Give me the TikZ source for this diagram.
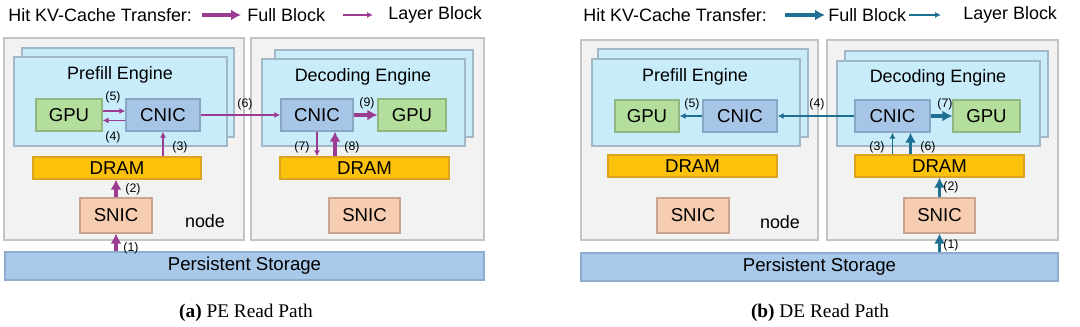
\documentclass[tikz,border=0pt]{standalone}
\usepackage{fontspec}
\setmainfont{Liberation Serif}
\newfontfamily\diagfont{Liberation Sans}
\usetikzlibrary{arrows.meta, calc, positioning}
\definecolor{hostfill}{HTML}{F2F2F2}
\definecolor{hostline}{HTML}{C4C4C4}
\definecolor{engfill}{HTML}{C8ECFA}
\definecolor{engline}{HTML}{A3B8C6}
\definecolor{gpufill}{HTML}{B4DE9B}
\definecolor{gpuline}{HTML}{93B57F}
\definecolor{cnicfill}{HTML}{A7C5E6}
\definecolor{cnicline}{HTML}{8AA6C4}
\definecolor{dramfill}{HTML}{FCC10A}
\definecolor{dramline}{HTML}{D9A520}
\definecolor{snicfill}{HTML}{F7CDB2}
\definecolor{snicline}{HTML}{C9A591}
\definecolor{storfill}{HTML}{A9C9EA}
\definecolor{storline}{HTML}{8EACCB}
\definecolor{hitpurple}{HTML}{9B3B92}
\definecolor{hitteal}{HTML}{1E6F92}

\begin{document}
\begin{tikzpicture}[
    x=0.02cm, y=-0.02cm,
    font=\diagfont\fontsize{10.2}{12}\selectfont,
    hostbox/.style={draw=hostline, fill=hostfill, line width=0.9pt},
    enginebox/.style={draw=engline, fill=engfill, line width=0.8pt},
    unit/.style={rectangle, line width=0.7pt, minimum height=0.64cm, inner sep=0pt,
        font=\diagfont\fontsize{10.6}{12}\selectfont},
    gpu/.style={unit, fill=gpufill, draw=gpuline},
    cnic/.style={unit, fill=cnicfill, draw=cnicline},
    dram/.style={unit, fill=dramfill, draw=dramline, minimum height=0.44cm},
    snic/.style={unit, fill=snicfill, draw=snicline, minimum height=0.7cm},
    storage/.style={unit, fill=storfill, draw=storline, minimum height=0.56cm},
    lbl/.style={font=\diagfont\fontsize{7}{8}\selectfont, inner sep=0pt},
    legendtext/.style={anchor=west, inner sep=0pt},
    fullarrow/.style={-{Latex[length=0.2cm, width=0.22cm]}, line width=2pt, draw=#1},
    layerarrow/.style={-{Latex[length=0.12cm, width=0.12cm]}, line width=0.7pt, draw=#1}
]
    \useasboundingbox (0,0) rectangle (1080,327);

    % ---------- (a) PE read path ----------
    % legend
    \node[legendtext] (legA) at (8,15) {Hit KV-Cache Transfer:};
    \node[legendtext] (fullA) at (247,15) {Full Block};
    \node[legendtext] (layerA) at (388,15) {Layer Block};
    \draw[fullarrow=hitpurple] ([xshift=0.2cm]legA.east) -- ([xshift=-0.12cm]fullA.west);
    \draw[layerarrow=hitpurple] ([xshift=0.36cm]fullA.east) -- ([xshift=-0.3cm]layerA.west);

    % hosts and engines
    \draw[hostbox] (4,38) rectangle (244,240);
    \draw[hostbox] (251,38) rectangle (484,240);
    \draw[enginebox] (22,48) rectangle (234,137);
    \draw[enginebox] (14,57) rectangle (227,146);
    \draw[enginebox] (275,50) rectangle (473,137);
    \draw[enginebox] (262,59) rectangle (465,146);
    \node (peA) at (120,75) {Prefill Engine};
    \node (deA) at (363,77) {Decoding Engine};
    \node (hostA) at (205,221) {node};

    % units
    \node[gpu, minimum width=1.32cm] (gpuPA) at (69,115) {GPU};
    \node[cnic, minimum width=1.48cm] (cnicPA) at (163,115) {CNIC};
    \node[cnic, minimum width=1.44cm] (cnicDA) at (317,115) {CNIC};
    \node[gpu, minimum width=1.36cm] (gpuDA) at (412,115) {GPU};
    \node[dram, minimum width=3.36cm] (dramPA) at (117,168) {DRAM};
    \node[dram, minimum width=3.38cm] (dramDA) at (364.5,168) {DRAM};
    \node[snic, minimum width=1.44cm] (snicPA) at (116,215.5) {SNIC};
    \node[snic, minimum width=1.42cm] (snicDA) at (364.5,215.5) {SNIC};
    \node[storage, minimum width=9.58cm] (storA) at (244.5,266) {Persistent Storage};

    % transfers
    \draw[fullarrow=hitpurple] (storA.north -| snicPA) -- (snicPA.south);
    \draw[fullarrow=hitpurple] (snicPA.north) -- (dramPA.south -| snicPA);
    \draw[layerarrow=hitpurple] (dramPA.north -| cnicPA) -- (cnicPA.south);
    \draw[layerarrow=hitpurple] ([yshift=-0.11cm]cnicPA.west) -- ([yshift=-0.11cm]gpuPA.east);
    \draw[layerarrow=hitpurple] ([yshift=0.08cm]gpuPA.east) -- ([yshift=0.08cm]cnicPA.west);
    \draw[layerarrow=hitpurple] (cnicPA.east) -- (cnicDA.west);
    \draw[layerarrow=hitpurple] (cnicDA.south) -- (dramDA.north -| cnicDA);
    \draw[fullarrow=hitpurple] ($(dramDA.north -| cnicDA)+(18,0)$) -- ($(cnicDA.south)+(18,0)$);
    \draw[fullarrow=hitpurple] (cnicDA.east) -- (gpuDA.west);

    \node[lbl] (n1A) at (131,248) {(1)};
    \node[lbl] (n2A) at (133,189) {(2)};
    \node[lbl] (n3A) at (180,147) {(3)};
    \node[lbl] (n4A) at (113,137) {(4)};
    \node[lbl] (n5A) at (113,97) {(5)};
    \node[lbl] (n6A) at (245,104) {(6)};
    \node[lbl] (n7A) at (302,147) {(7)};
    \node[lbl] (n8A) at (352,147) {(8)};
    \node[lbl] (n9A) at (367,103) {(9)};

    \node[font=\rmfamily\fontsize{11}{13}\selectfont] (capA) at (246,313) {\textbf{(a)} PE Read Path};

    % ---------- (b) DE read path ----------
    % legend
    \node[legendtext] (legB) at (583,15) {Hit KV-Cache Transfer:};
    \node[legendtext] (fullB) at (828,15) {Full Block};
    \node[legendtext] (layerB) at (963,15) {Layer Block};
    \draw[fullarrow=hitteal] ([xshift=0.36cm]legB.east) -- ([xshift=-0.06cm]fullB.west);
    \draw[layerarrow=hitteal] ([xshift=0.06cm]fullB.east) -- ([xshift=-0.44cm]layerB.west);

    % hosts and engines
    \draw[hostbox] (581,40) rectangle (818,240);
    \draw[hostbox] (827,40) rectangle (1058,240);
    \draw[enginebox] (598,49) rectangle (808,137);
    \draw[enginebox] (592,59) rectangle (800,146);
    \draw[enginebox] (845,51) rectangle (1048,137);
    \draw[enginebox] (837,61) rectangle (1040,146);
    \node (peB) at (695,77) {Prefill Engine};
    \node (deB) at (938,78) {Decoding Engine};
    \node (hostB) at (780,222) {node};

    % units
    \node[gpu, minimum width=1.28cm] (gpuPB) at (647,116) {GPU};
    \node[cnic, minimum width=1.48cm] (cnicPB) at (740,116) {CNIC};
    \node[cnic, minimum width=1.5cm] (cnicDB) at (892.5,116) {CNIC};
    \node[gpu, minimum width=1.34cm] (gpuDB) at (986.5,116) {GPU};
    \node[dram, minimum width=3.38cm] (dramPB) at (692.5,166) {DRAM};
    \node[dram, minimum width=3.38cm] (dramDB) at (939.5,166) {DRAM};
    \node[snic, minimum width=1.44cm] (snicPB) at (693,215.5) {SNIC};
    \node[snic, minimum width=1.42cm] (snicDB) at (939.5,215.5) {SNIC};
    \node[storage, minimum width=9.54cm] (storB) at (819.5,267) {Persistent Storage};

    % transfers
    \draw[fullarrow=hitteal] (storB.north -| snicDB) -- (snicDB.south);
    \draw[fullarrow=hitteal] (snicDB.north) -- (dramDB.south -| snicDB);
    \draw[layerarrow=hitteal] (dramDB.north -| cnicDB) -- (cnicDB.south);
    \draw[fullarrow=hitteal] ($(dramDB.north -| cnicDB)+(18,0)$) -- ($(cnicDB.south)+(18,0)$);
    \draw[fullarrow=hitteal] (cnicDB.east) -- (gpuDB.west);
    \draw[layerarrow=hitteal] (cnicDB.west) -- (cnicPB.east);
    \draw[layerarrow=hitteal] (cnicPB.west) -- (gpuPB.east);

    \node[lbl] (n1B) at (951,245) {(1)};
    \node[lbl] (n2B) at (951,187) {(2)};
    \node[lbl] (n3B) at (877,147) {(3)};
    \node[lbl] (n4B) at (817,104) {(4)};
    \node[lbl] (n5B) at (692,104) {(5)};
    \node[lbl] (n6B) at (928,147) {(6)};
    \node[lbl] (n7B) at (945,104) {(7)};

    \node[font=\rmfamily\fontsize{11}{13}\selectfont] (capB) at (820,313) {\textbf{(b)} DE Read Path};
\end{tikzpicture}
\end{document}
